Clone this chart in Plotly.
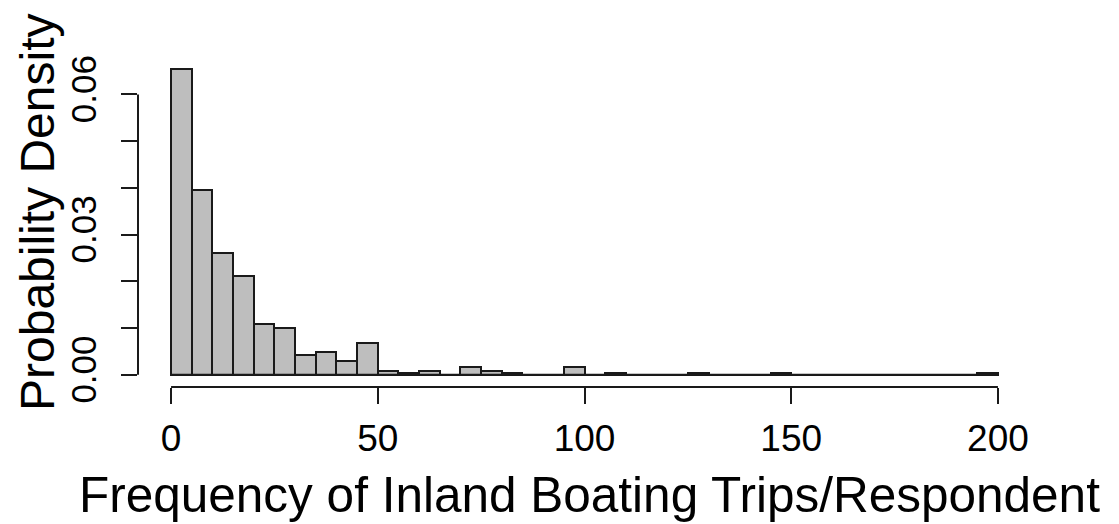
import plotly.graph_objects as go

# Histogram data (bin edges every 5 trips, density per bin)
bin_edges = list(range(0, 205, 5))
density = [
    0.0654, 0.0395, 0.0260, 0.0212, 0.0108, 0.0100, 0.0043, 0.0048, 0.0029, 0.0067,  # 0-50
    0.0009, 0.0004, 0.0009, 0.0, 0.0017, 0.0009, 0.0004, 0.0, 0.0, 0.0017,           # 50-100
    0.0, 0.0004, 0.0, 0.0, 0.0, 0.0004, 0.0, 0.0, 0.0, 0.0004,                       # 100-150
    0.0, 0.0, 0.0, 0.0, 0.0, 0.0, 0.0, 0.0, 0.0, 0.0004,                             # 150-200
]
x_ticks = [0, 50, 100, 150, 200]
x_tick_labels = ["0", "50", "100", "150", "200"]
y_ticks = [0.00, 0.01, 0.02, 0.03, 0.04, 0.05, 0.06]
y_tick_labels = ["0.00", "", "", "0.03", "", "", "0.06"]
x_title = "Frequency of Inland Boating Trips/Respondent"
y_title = "Probability Density"

centers = [(bin_edges[i] + bin_edges[i + 1]) / 2 for i in range(len(density))]
widths = [bin_edges[i + 1] - bin_edges[i] for i in range(len(density))]

FONT = "Liberation Sans, Arial, sans-serif"

fig = go.Figure()
fig.add_trace(go.Bar(
    x=centers, y=density, width=widths,
    marker=dict(color="#bebebe", line=dict(color="#1a1a1a", width=2)),
    hoverinfo="x+y", showlegend=False,
))

# R-style extended ranges (4%)
xr = [bin_edges[0] - 0.04 * (bin_edges[-1] - bin_edges[0]), bin_edges[-1] + 0.04 * (bin_edges[-1] - bin_edges[0])]
ymax = max(density)
yr = [-0.04 * ymax, 1.04 * ymax]

shapes = [
    # baseline under zero-height bins
    dict(type="line", xref="x", yref="y", x0=bin_edges[0], x1=bin_edges[-1], y0=0, y1=0,
         line=dict(color="#1a1a1a", width=2)),
    # x axis line (first to last tick)
    dict(type="line", xref="x", yref="paper", x0=x_ticks[0], x1=x_ticks[-1], y0=0, y1=0,
         line=dict(color="#1a1a1a", width=2)),
    # y axis line
    dict(type="line", xref="paper", yref="y", x0=0, x1=0, y0=y_ticks[0], y1=y_ticks[-1],
         line=dict(color="#1a1a1a", width=2)),
]

# page body has an 8px margin, so the figure is 8px smaller than the window
fig.update_layout(
    width=1111, height=516,
    margin=dict(l=130, r=88, t=49, b=137),
    paper_bgcolor="white", plot_bgcolor="white",
    font=dict(family=FONT, color="black"),
    bargap=0,
    shapes=shapes,
    xaxis=dict(range=xr, tickvals=x_ticks, ticktext=x_tick_labels,
               ticks="outside", ticklen=16, tickwidth=2, tickcolor="#1a1a1a",
               showgrid=False, zeroline=False, showline=False,
               tickfont=dict(size=37, family=FONT), ticklabelstandoff=3),
    yaxis=dict(range=yr, tickvals=y_ticks, ticktext=y_tick_labels,
               ticks="outside", ticklen=16, tickwidth=2, tickcolor="#1a1a1a",
               showgrid=False, zeroline=False, showline=False, tickangle=-90,
               tickfont=dict(size=35, family=FONT), ticklabelstandoff=11),
    annotations=[
        dict(text=x_title, xref="paper", yref="paper", x=(589 - 138) / (1031 - 138),
             y=-(494 - 387) / (387 - 57), xanchor="center", yanchor="middle",
             showarrow=False, font=dict(size=49.5, family=FONT)),
        dict(text=y_title, xref="paper", yref="paper", x=-(138 - 37) / (1031 - 138),
             y=(387 - 212) / (387 - 57), xanchor="center", yanchor="middle", textangle=-90,
             showarrow=False, font=dict(size=48, family=FONT)),
    ],
)

fig.write_html("out.html")
